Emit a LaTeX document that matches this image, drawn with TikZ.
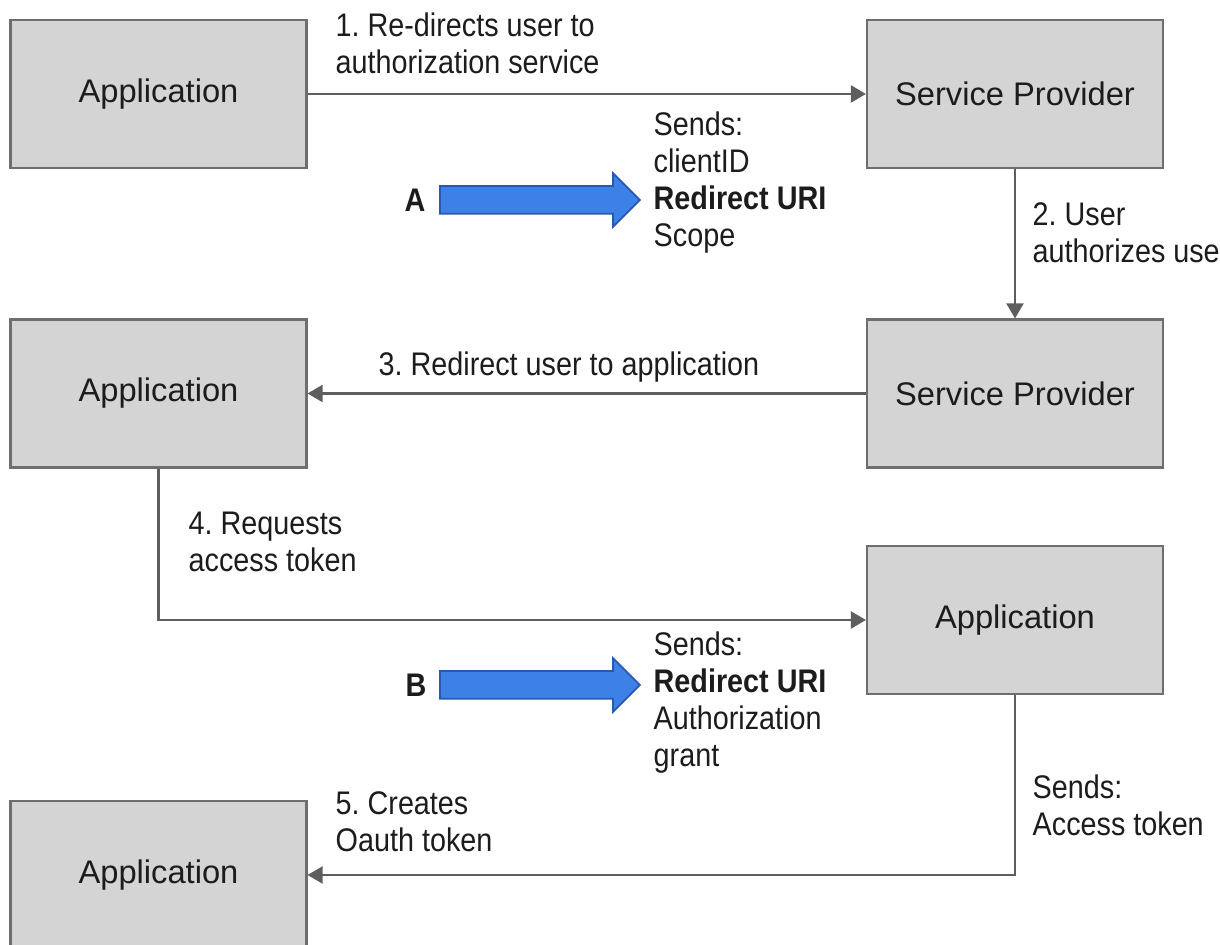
\documentclass[tikz,border=0pt]{standalone}
\usepackage{fontspec}
\setmainfont{Liberation Sans}[FakeStretch=0.88]
\newfontfamily\boxfont{Liberation Sans}
\usepackage{xcolor}
\usetikzlibrary{positioning, shapes.arrows, arrows.meta}
\definecolor{boxfill}{HTML}{D4D4D4}
\definecolor{boxline}{HTML}{6E6E6E}
\definecolor{flowline}{HTML}{5E5E5E}
\definecolor{textdark}{HTML}{1C1C1C}
\definecolor{bluefill}{HTML}{3C82E6}
\definecolor{blueline}{HTML}{2A58B0}
\frenchspacing
\tikzset{
    party/.style={rectangle, draw=boxline, fill=boxfill, minimum width=2.96cm, minimum height=1.48cm, inner sep=0pt, font=\boxfont\fontsize{9.3}{11}\selectfont, text=textdark, line width=0.6pt},
    flow/.style={draw=flowline, line width=0.6pt, -{Triangle[length=0.15cm, width=0.17cm]}},
    note/.style={align=left, anchor=north west, inner sep=0pt, font=\fontsize{9.3}{10.5}\selectfont, text=textdark},
    bigarrow/.style={single arrow, draw=blueline, fill=bluefill, minimum height=2cm, inner xsep=0pt, inner ysep=0.13cm, single arrow head extend=0.13cm, line width=0.5pt},
    tag/.style={font=\bfseries\fontsize{9.3}{11}\selectfont, text=textdark, inner sep=0pt}
}

\begin{document}
\begin{tikzpicture}
\useasboundingbox (0,0) rectangle (12.2,-9.45);

% Parties
\node[party] (app1) at (1.585,-0.94) {Application};
\node[party] (sp1) at (10.15,-0.94) {Service Provider};
\node[party] (app2) at (1.585,-3.935) {Application};
\node[party] (sp2) at (10.15,-3.935) {Service Provider};
\node[party] (app3) at (10.15,-6.20) {Application};
\node[party] (app4) at (1.585,-8.75) {Application};

% Steps
\draw[flow] (app1) -- (sp1);
\draw[flow] (sp1) -- (sp2);
\draw[flow] (sp2) -- (app2);
\draw[flow] (app2) |- (app3);
\draw[flow] (app3) |- (app4);

% Step labels
\node[note] (lbl1) at (3.35,-0.125) {1. Re-directs user to\\authorization service};
\node[note] (lbl2) at (10.32,-2.02) {2. User\\authorizes use};
\node[note] (lbl3) at (3.78,-3.51) {3. Redirect user to application};
\node[note] (lbl4) at (1.88,-5.11) {4. Requests\\access token};
\node[note] (lbl5) at (3.35,-7.91) {5. Creates\\Oauth token};
\node[note] (sendsC) at (10.32,-7.74) {Sends:\\Access token};

% What is sent
\node[tag] (tagA) at (4.15,-2.0) {A};
\node[bigarrow] (arrA) at (5.33,-2.0) {};
\node[note] (sendsA) at (6.53,-1.11) {Sends:\\clientID\\\textbf{Redirect URI}\\Scope};

\node[tag] (tagB) at (4.16,-6.85) {B};
\node[bigarrow] (arrB) at (5.33,-6.85) {};
\node[note] (sendsB) at (6.53,-6.31) {Sends:\\\textbf{Redirect URI}\\Authorization\\grant};
\end{tikzpicture}
\end{document}
